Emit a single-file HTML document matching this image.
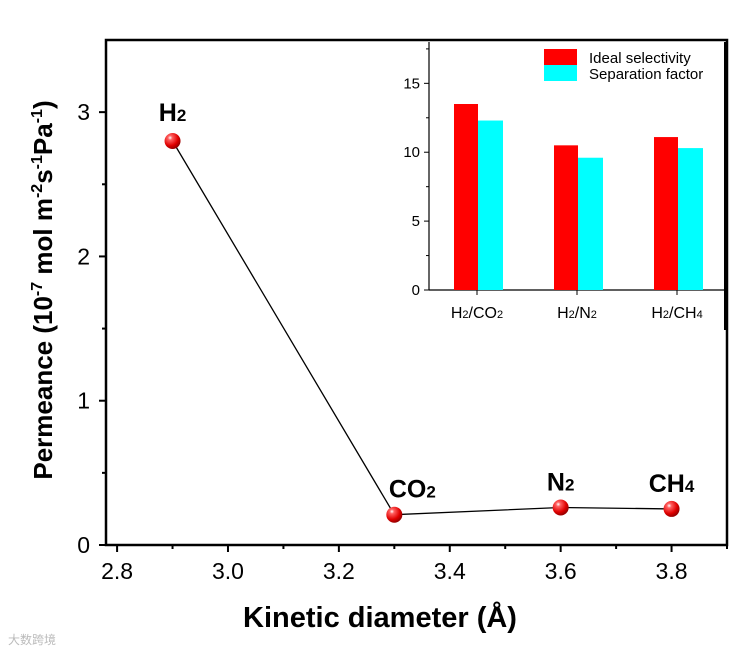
<!DOCTYPE html>
<html><head><meta charset="utf-8"><style>
html,body{margin:0;padding:0;background:#fff;}
svg{display:block;font-family:"Liberation Sans",Arial,sans-serif;}
</style></head><body>
<svg id="chart" width="756" height="653" viewBox="0 0 756 653">
<defs>
<radialGradient id="ball" cx="0.35" cy="0.3" r="0.7">
<stop offset="0" stop-color="#fff"/><stop offset="0.2" stop-color="#ff6060"/><stop offset="0.7" stop-color="#e00000"/><stop offset="1" stop-color="#900"/>
</radialGradient>
</defs>
<g id="main"></g>
<g id="inset"></g>
<text x="0" y="0" transform="translate(52,290) rotate(-90)" text-anchor="middle" font-size="26" font-weight="bold">Permeance (10<tspan dy="-10" font-size="16">-7</tspan><tspan dy="10"> mol m</tspan><tspan dy="-10" font-size="16">-2</tspan><tspan dy="10">s</tspan><tspan dy="-10" font-size="16">-1</tspan><tspan dy="10">Pa</tspan><tspan dy="-10" font-size="16">-1</tspan><tspan dy="10">)</tspan></text>
<text x="380" y="627" text-anchor="middle" font-size="29" font-weight="bold">Kinetic diameter (Å)</text>
<text x="8" y="644" font-size="12" fill="#bbb">大数跨境</text>
</svg>
<script>
const gases = ['H2','CO2','N2','CH4'];
const diameters = [2.9, 3.3, 3.6, 3.8];
const permeance = [2.8, 0.21, 0.26, 0.25];
const xTicks = [2.8, 3.0, 3.2, 3.4, 3.6, 3.8];
const yTicks = [0, 1, 2, 3];
const pairs = ['H2/CO2','H2/N2','H2/CH4'];
const idealSel = [13.5, 10.5, 11.1];
const sepFactor = [12.3, 9.6, 10.3];
const insetTicks = [0, 5, 10, 15];

const NS='http://www.w3.org/2000/svg';
function mk(p,t,a,txt){const e=document.createElementNS(NS,t);for(const k in a)e.setAttribute(k,a[k]);if(txt!=null)e.textContent=txt;p.appendChild(e);return e;}
const L=106,R=727,T=40,B=545;
const X=v=>L+(v-2.78)/(3.9-2.78)*(R-L);
const Y=v=>B-(v/3.5)*(B-T);
const g=document.getElementById('main');
xTicks.forEach(t=>{
  const l=mk(g,'line',{x1:X(t),x2:X(t),y1:B,y2:B+7,stroke:'#000','stroke-width':2});
  
  
  const m=mk(g,'line',{x1:X(t+0.1),x2:X(t+0.1),y1:B,y2:B+4,stroke:'#000','stroke-width':2});
  
  
  const s=mk(g,'text',{x:X(t),y:B+34,'text-anchor':'middle','font-size':23},t.toFixed(1));
  
  
});
yTicks.forEach(t=>{
  const l=mk(g,'line',{x1:L-7,x2:L,y1:Y(t),y2:Y(t),stroke:'#000','stroke-width':2});
  
  
  if(t+0.5<3.5){const m=mk(g,'line',{x1:L-4,x2:L,y1:Y(t+0.5),y2:Y(t+0.5),stroke:'#000','stroke-width':2});
  
  }
  const s=mk(g,'text',{x:L-16,y:Y(t)+8,'text-anchor':'end','font-size':23},String(t));
  
  
});
const fr=mk(g,'rect',{x:L,y:T,width:R-L,height:B-T,fill:'none',stroke:'#000','stroke-width':2.5});


const pts=diameters.map((d,i)=>X(d)+','+Y(permeance[i])).join(' ');
const ln=mk(g,'polyline',{points:pts,fill:'none',stroke:'#000','stroke-width':1.3});


diameters.forEach((d,i)=>{
  const c=mk(g,'circle',{cx:X(d),cy:Y(permeance[i]),r:8,fill:'url(#ball)'});
  
  
  const name=gases[i];const el=name.replace(/\d/g,''),num=name.replace(/\D/g,'');
  const t=mk(g,'text',{x:X(d)+(i==1?18:0),y:Y(permeance[i])-(i==0?20:17),'text-anchor':'middle','font-size':25,'font-weight':'bold'});
  
  
  mk(t,'tspan',{},el);mk(t,'tspan',{'font-size':17},num);
});
const gi=document.getElementById('inset');
const IL=429,IR=725,IT=42,IB=290,IMAX=18;
const IY=v=>IB-v/IMAX*(IB-IT);
const cx=[477,577,677];
mk(gi,'line',{x1:IL,x2:IL,y1:IT,y2:IB,stroke:'#000','stroke-width':1.2});
mk(gi,'line',{x1:IL,x2:IR,y1:IB,y2:IB,stroke:'#000','stroke-width':1.2});
mk(gi,'line',{x1:IR,x2:IR,y1:IT,y2:330,stroke:'#000','stroke-width':2});
insetTicks.forEach(t=>{
  mk(gi,'line',{x1:IL-5,x2:IL,y1:IY(t),y2:IY(t),stroke:'#000','stroke-width':1});
  if(t+2.5<IMAX) mk(gi,'line',{x1:IL-3,x2:IL,y1:IY(t+2.5),y2:IY(t+2.5),stroke:'#000','stroke-width':1});
  const s=mk(gi,'text',{x:IL-9,y:IY(t)+5,'text-anchor':'end','font-size':15},String(t));
  
  
});
pairs.forEach((p,i)=>{
  mk(gi,'line',{x1:cx[i],x2:cx[i],y1:IB,y2:IB+5,stroke:'#000','stroke-width':1});
  const a=mk(gi,'rect',{x:cx[i]-23,y:IY(idealSel[i]),width:24,height:IB-IY(idealSel[i]),fill:'#ff0000'});
  
  
  const b=mk(gi,'rect',{x:cx[i]+1,y:IY(sepFactor[i]),width:25,height:IB-IY(sepFactor[i]),fill:'#00ffff'});
  
  
  const parts=p.split('/');
  const t=mk(gi,'text',{x:cx[i],y:IB+28,'text-anchor':'middle','font-size':16});
  
  
  parts.forEach((q,j)=>{
    const el=q.replace(/\d/g,''),num=q.replace(/\D/g,'');
    mk(t,'tspan',{},(j?'/':'')+el);if(num)mk(t,'tspan',{'font-size':11},num);
  });
});
const lg=[['#ff0000','Ideal selectivity',49],['#00ffff','Separation factor',65]];
lg.forEach(([c,s,y])=>{
  const r=mk(gi,'rect',{x:544,y:y,width:33,height:16,fill:c});
  
  
  const t=mk(gi,'text',{x:589,y:y+14,'font-size':15},s);
  
  
});
</script>
</body></html>
